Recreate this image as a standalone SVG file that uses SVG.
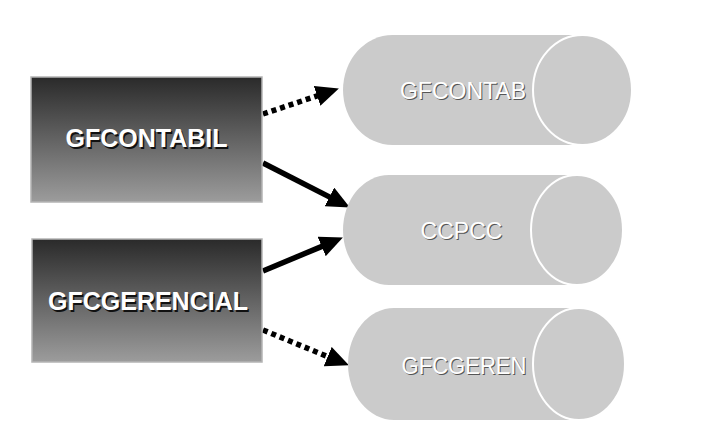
<svg xmlns="http://www.w3.org/2000/svg" width="705" height="437" viewBox="0 0 705 437">
  <style>
    .box { stroke: #b4b4b4; stroke-width: 1.5; }
    .cyl { fill: #cbcbcb; }
    .cap { fill: #cbcbcb; stroke: #ffffff; stroke-width: 2; }
    .btxt { font-family: "Liberation Sans", Arial, sans-serif; font-weight: bold; font-size: 25px; text-anchor: middle; }
    .ctxt { font-family: "Liberation Sans", Arial, sans-serif; font-size: 23px; text-anchor: middle; }
    .shadow { fill: #111111; }
    .cshadow { fill: #555555; }
    .white { fill: #ffffff; }
    .conn { stroke: #000000; stroke-width: 5.5; fill: none; }
    .dot { stroke-dasharray: 5 4; }
  </style>
  <defs>
    <linearGradient id="boxgrad" x1="0" y1="0" x2="0" y2="1">
      <stop offset="0" stop-color="#2a2a2a"/>
      <stop offset="1" stop-color="#9c9c9c"/>
    </linearGradient>
    <marker id="ah" markerUnits="userSpaceOnUse" markerWidth="23" markerHeight="21" viewBox="0 0 23 21" refX="1" refY="10.5" orient="auto">
      <path d="M0,0 L23,10.5 L0,21 Z" fill="#000000"/>
    </marker>
  </defs>

  <g id="connectors">
    <line class="conn dot" x1="263" y1="114" x2="318" y2="95.6" marker-end="url(#ah)"/>
    <line class="conn" x1="263" y1="163" x2="330.3" y2="197.4" marker-end="url(#ah)"/>
    <line class="conn" x1="263" y1="271" x2="322.6" y2="246.1" marker-end="url(#ah)"/>
    <line class="conn dot" x1="263" y1="330" x2="328.6" y2="357" marker-end="url(#ah)"/>
  </g>

  <g id="gfcontabil">
    <rect class="box" x="31" y="77" width="231" height="125" fill="url(#boxgrad)"/>
    <text class="btxt shadow" x="148" y="148.5">GFCONTABIL</text>
    <text class="btxt white" x="146.5" y="147">GFCONTABIL</text>
  </g>

  <g id="gfcgerencial">
    <rect class="box" x="32" y="239" width="230" height="123" fill="url(#boxgrad)"/>
    <text class="btxt shadow" x="149.5" y="311.5">GFCGERENCIAL</text>
    <text class="btxt white" x="148" y="310">GFCGERENCIAL</text>
  </g>

  <g id="gfcontab">
    <path class="cyl" d="M392.5,35 H582.5 A49.5,55 0 0 1 582.5,145 H392.5 A49.5,55 0 0 1 392.5,35 Z"/>
    <ellipse class="cap" cx="582.5" cy="90" rx="49.5" ry="55"/>
    <text class="ctxt cshadow" x="464" y="100">GFCONTAB</text>
    <text class="ctxt white" x="463" y="99">GFCONTAB</text>
  </g>

  <g id="ccpcc">
    <path class="cyl" d="M389,175 H577 A46,55 0 0 1 577,285 H389 A46,55 0 0 1 389,175 Z"/>
    <ellipse class="cap" cx="577" cy="230" rx="46" ry="55"/>
    <text class="ctxt cshadow" x="462.5" y="240">CCPCC</text>
    <text class="ctxt white" x="461.5" y="239">CCPCC</text>
  </g>

  <g id="gfcgeren">
    <path class="cyl" d="M394,308 H579 A46,56 0 0 1 579,420 H394 A46,56 0 0 1 394,308 Z"/>
    <ellipse class="cap" cx="579" cy="364" rx="46" ry="56"/>
    <text class="ctxt cshadow" x="465" y="375" textLength="125" lengthAdjust="spacingAndGlyphs">GFCGEREN</text>
    <text class="ctxt white" x="464" y="374" textLength="125" lengthAdjust="spacingAndGlyphs">GFCGEREN</text>
  </g>
</svg>
